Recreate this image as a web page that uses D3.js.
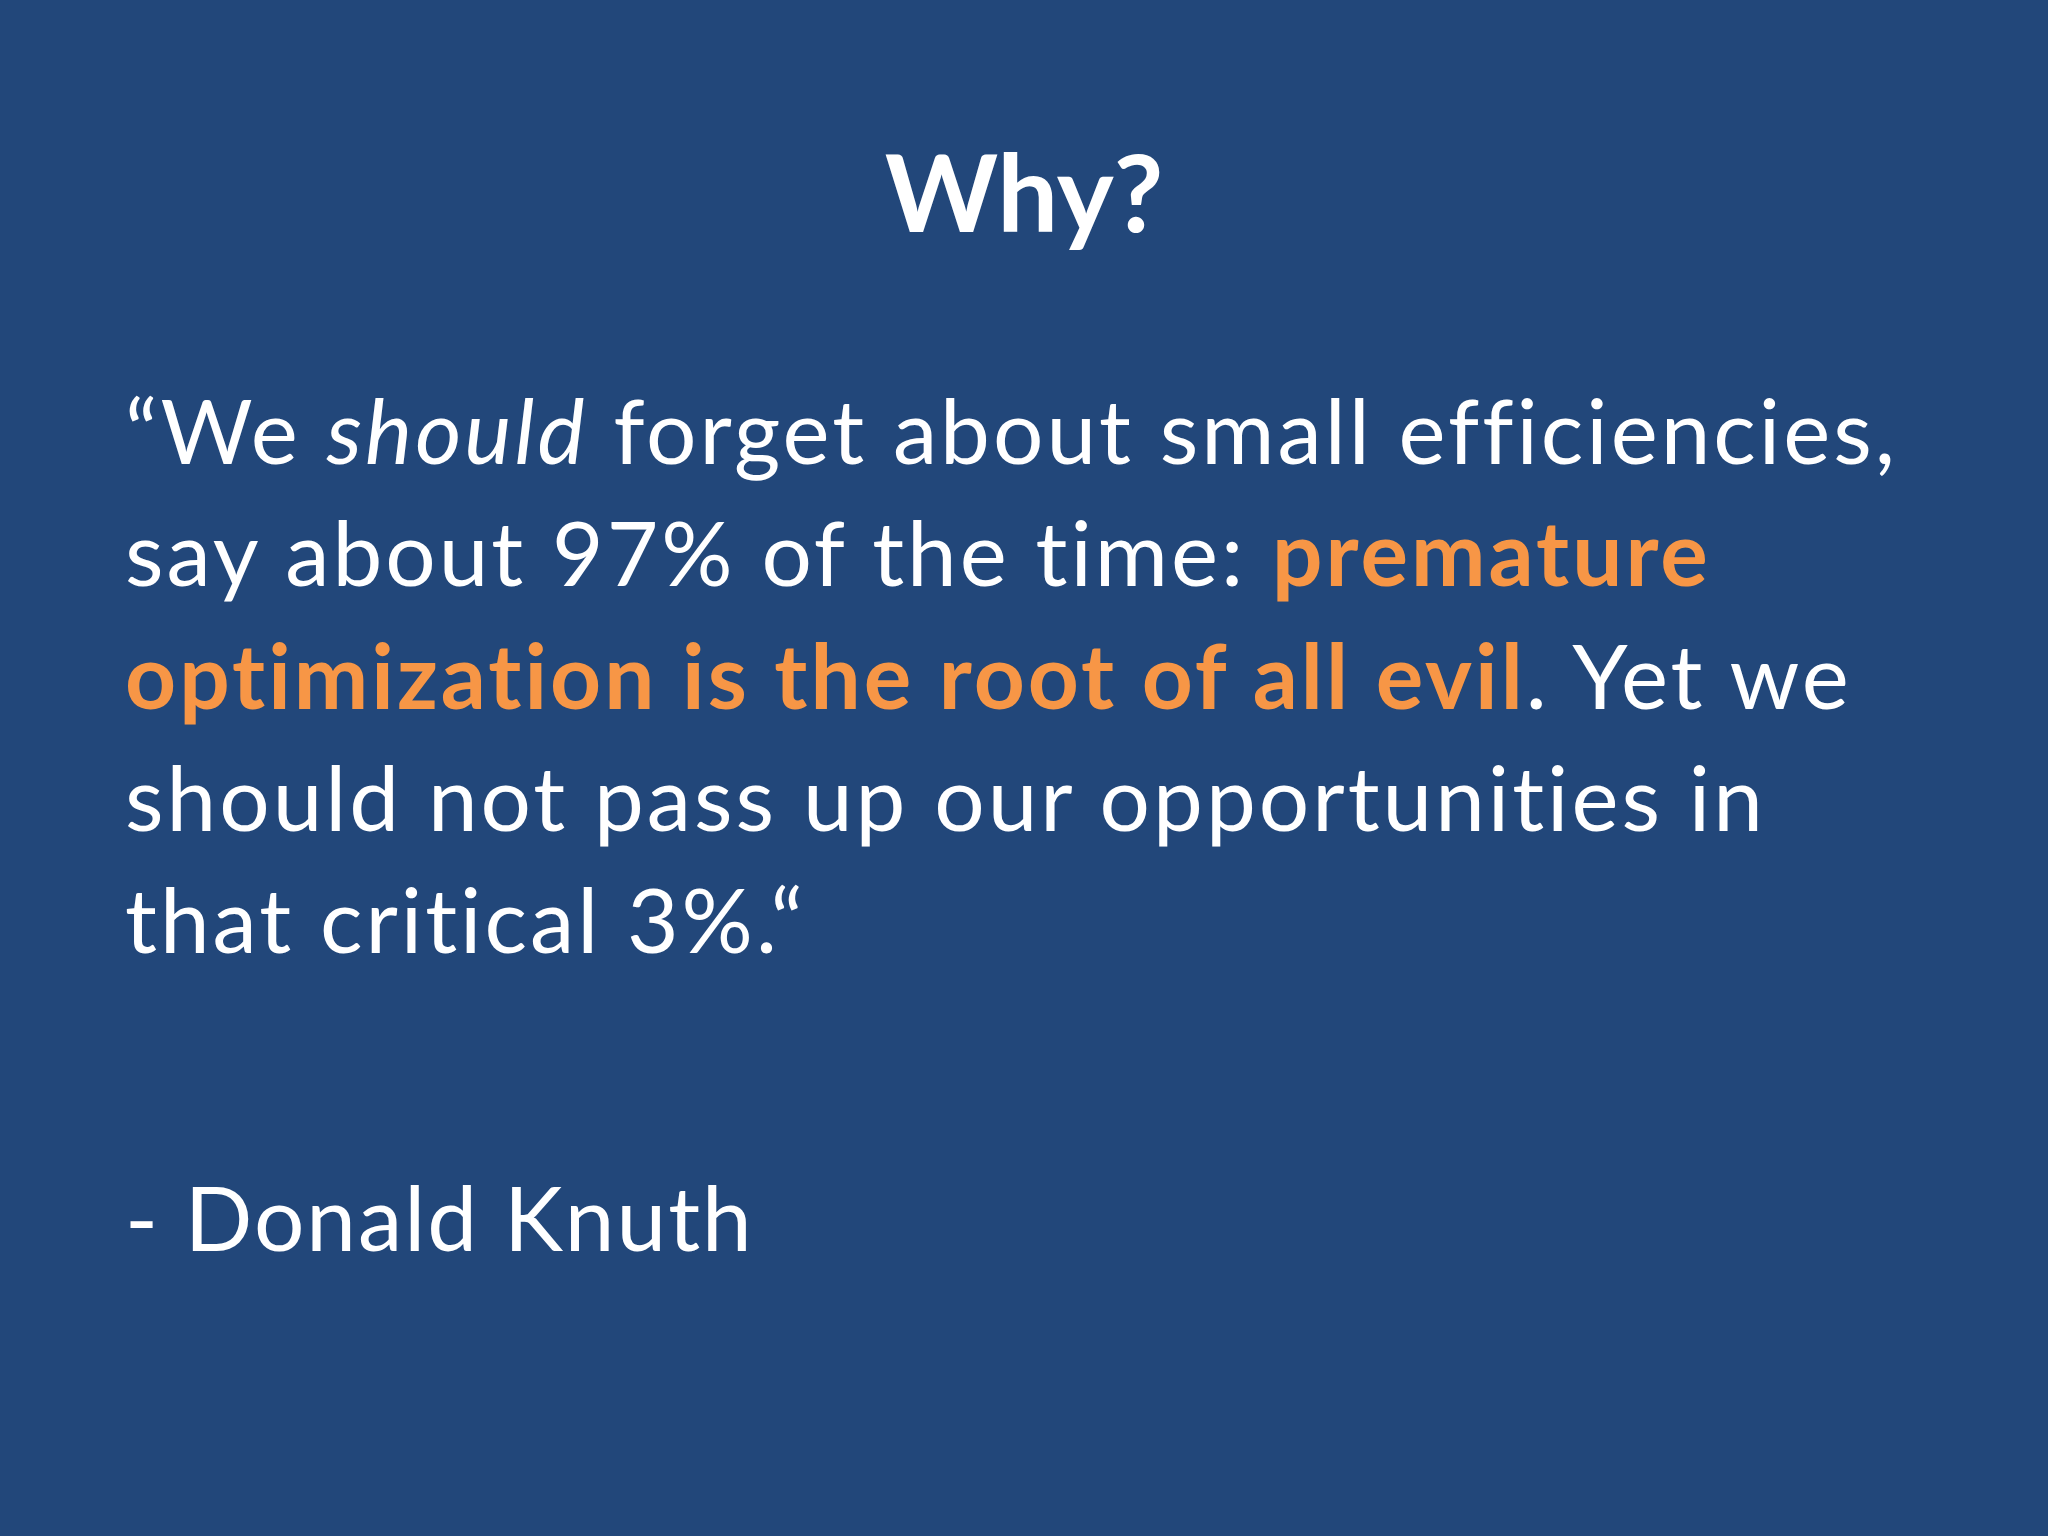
<!DOCTYPE html>
<html><head><meta charset="utf-8">
<script src="https://cdn.jsdelivr.net/npm/d3@7"></script>
<style>html,body{margin:0;padding:0;background:#22477a;} text{font-variant-ligatures:none;font-feature-settings:"liga" 0;}</style>
</head><body>
<script>
const title = "Why?";
// each line: array of [text, style] ; style: n normal, i italic, o orange bold
const quoteLines = [
  [["\u201CWe ","n"],["should","i"],[" forget about small efficiencies,","n"]],
  [["say about 97% of the time: ","n"],["premature","o"]],
  [["optimization is the root of all evil","o"],[". Yet we","n"]],
  [["should not pass up our opportunities in","n"]],
  [["that critical 3%.\u201C","n"]]
];
const author = "- Donald Knuth";

const W = 2048, H = 1536;
const svg = d3.select("body").append("svg").attr("width", W).attr("height", H);
svg.append("rect").attr("width", W).attr("height", H).attr("fill", "#22477a");
const font = "Lato, 'Open Sans', sans-serif";

svg.append("text").attr("x", 1024).attr("y", 232).attr("text-anchor", "middle")
  .attr("font-family", font).attr("font-weight", "bold").attr("font-size", 108)
  .attr("fill", "#ffffff").text(title);

const y = d3.scaleLinear().domain([0, 4]).range([464, 953]);
const t = svg.selectAll("text.q").data(quoteLines).join("text").attr("class", "q")
  .attr("x", 125).attr("y", (d, i) => y(i))
  .attr("font-family", font).attr("font-size", 89).attr("letter-spacing", 3)
  .attr("fill", "#ffffff");
t.selectAll("tspan").data(d => d).join("tspan")
  .attr("font-style", d => d[1] === "i" ? "italic" : "normal")
  .attr("font-weight", d => d[1] === "o" ? "bold" : "normal")
  .attr("fill", d => d[1] === "o" ? "#f79646" : "#ffffff")
  .style("white-space", "pre")
  .text(d => d[0]);

svg.append("text").attr("x", 125).attr("y", 1251)
  .attr("font-family", font).attr("font-size", 89).attr("letter-spacing", 2)
  .attr("fill", "#ffffff").text(author);
</script>
</body></html>
